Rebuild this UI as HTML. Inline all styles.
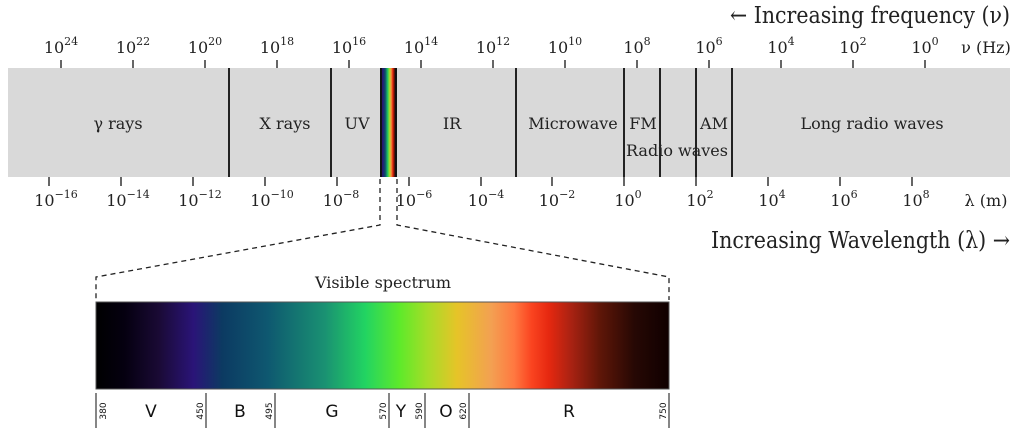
<!DOCTYPE html>
<html><head><meta charset="utf-8"><style>
html,body{margin:0;padding:0;background:#fff;}
svg{display:block;}
.s{font-family:"DejaVu Serif","Liberation Serif",serif;fill:#222;}
.a{font-family:"DejaVu Sans","Liberation Sans",sans-serif;fill:#111;}
</style></head><body>
<svg width="1024" height="435" viewBox="0 0 1024 435" xmlns="http://www.w3.org/2000/svg">
<defs>
<linearGradient id="vis" x1="0" x2="1" y1="0" y2="0">
<stop offset="0" stop-color="#000000"/>
<stop offset="0.05" stop-color="#050010"/>
<stop offset="0.11" stop-color="#1a0a35"/>
<stop offset="0.17" stop-color="#2a1478"/>
<stop offset="0.22" stop-color="#0c3a62"/>
<stop offset="0.3" stop-color="#0e5870"/>
<stop offset="0.4" stop-color="#1a9272"/>
<stop offset="0.47" stop-color="#22d462"/>
<stop offset="0.53" stop-color="#5eea2a"/>
<stop offset="0.58" stop-color="#a8dc28"/>
<stop offset="0.63" stop-color="#e6c428"/>
<stop offset="0.69" stop-color="#f3a052"/>
<stop offset="0.73" stop-color="#ff7840"/>
<stop offset="0.76" stop-color="#fa4420"/>
<stop offset="0.79" stop-color="#e62810"/>
<stop offset="0.83" stop-color="#a82212"/>
<stop offset="0.88" stop-color="#5e1608"/>
<stop offset="0.94" stop-color="#260804"/>
<stop offset="1" stop-color="#100000"/>
</linearGradient>
<linearGradient id="mini" x1="0" x2="1" y1="0" y2="0">
<stop offset="0" stop-color="#000"/>
<stop offset="0.15" stop-color="#2a1478"/>
<stop offset="0.3" stop-color="#0c4a6a"/>
<stop offset="0.45" stop-color="#22c462"/>
<stop offset="0.55" stop-color="#9ae028"/>
<stop offset="0.65" stop-color="#f3a040"/>
<stop offset="0.75" stop-color="#e62810"/>
<stop offset="0.88" stop-color="#3a0a04"/>
<stop offset="1" stop-color="#000"/>
</linearGradient>
</defs>

<text class="s" x="730" y="23" font-size="23" textLength="280" lengthAdjust="spacingAndGlyphs">← Increasing frequency (ν)</text>
<text class="s" x="711" y="248" font-size="23" textLength="299" lengthAdjust="spacingAndGlyphs">Increasing Wavelength (λ) →</text>

<rect x="8" y="68" width="1002" height="109" fill="#d9d9d9"/>

<g stroke="#333" stroke-width="1.5">
<line x1="61" y1="60" x2="61" y2="68"/><line x1="133" y1="60" x2="133" y2="68"/><line x1="205" y1="60" x2="205" y2="68"/><line x1="277" y1="60" x2="277" y2="68"/><line x1="349" y1="60" x2="349" y2="68"/><line x1="421" y1="60" x2="421" y2="68"/><line x1="493" y1="60" x2="493" y2="68"/><line x1="565" y1="60" x2="565" y2="68"/><line x1="637" y1="60" x2="637" y2="68"/><line x1="709" y1="60" x2="709" y2="68"/><line x1="781" y1="60" x2="781" y2="68"/><line x1="853" y1="60" x2="853" y2="68"/><line x1="925" y1="60" x2="925" y2="68"/>
<line x1="49" y1="177" x2="49" y2="186"/><line x1="121" y1="177" x2="121" y2="186"/><line x1="193" y1="177" x2="193" y2="186"/><line x1="265" y1="177" x2="265" y2="186"/><line x1="337" y1="177" x2="337" y2="186"/><line x1="409" y1="177" x2="409" y2="186"/><line x1="481" y1="177" x2="481" y2="186"/><line x1="552" y1="177" x2="552" y2="186"/><line x1="624" y1="177" x2="624" y2="186"/><line x1="696" y1="177" x2="696" y2="186"/><line x1="768" y1="177" x2="768" y2="186"/><line x1="840" y1="177" x2="840" y2="186"/><line x1="912" y1="177" x2="912" y2="186"/>
</g>
<g stroke="#222" stroke-width="2">
<line x1="229" y1="68" x2="229" y2="177"/><line x1="331" y1="68" x2="331" y2="177"/>
<line x1="516" y1="68" x2="516" y2="177"/><line x1="624" y1="68" x2="624" y2="177"/>
<line x1="660" y1="68" x2="660" y2="177"/><line x1="696" y1="68" x2="696" y2="177"/>
<line x1="732" y1="68" x2="732" y2="177"/>
</g>
<rect x="380" y="68" width="17" height="109" fill="url(#mini)"/>
<rect x="380" y="68" width="2" height="109" fill="#111"/><rect x="395" y="68" width="2" height="109" fill="#111"/>

<g class="s" font-size="16" text-anchor="middle">
<text x="61" y="53">10<tspan dy="-8" font-size="11">24</tspan></text>
<text x="133" y="53">10<tspan dy="-8" font-size="11">22</tspan></text>
<text x="205" y="53">10<tspan dy="-8" font-size="11">20</tspan></text>
<text x="277" y="53">10<tspan dy="-8" font-size="11">18</tspan></text>
<text x="349" y="53">10<tspan dy="-8" font-size="11">16</tspan></text>
<text x="421" y="53">10<tspan dy="-8" font-size="11">14</tspan></text>
<text x="493" y="53">10<tspan dy="-8" font-size="11">12</tspan></text>
<text x="565" y="53">10<tspan dy="-8" font-size="11">10</tspan></text>
<text x="637" y="53">10<tspan dy="-8" font-size="11">8</tspan></text>
<text x="709" y="53">10<tspan dy="-8" font-size="11">6</tspan></text>
<text x="781" y="53">10<tspan dy="-8" font-size="11">4</tspan></text>
<text x="853" y="53">10<tspan dy="-8" font-size="11">2</tspan></text>
<text x="925" y="53">10<tspan dy="-8" font-size="11">0</tspan></text>
<text x="986" y="53">ν (Hz)</text>

<text x="56" y="206">10<tspan dy="-8" font-size="11">−16</tspan></text>
<text x="128" y="206">10<tspan dy="-8" font-size="11">−14</tspan></text>
<text x="200" y="206">10<tspan dy="-8" font-size="11">−12</tspan></text>
<text x="272" y="206">10<tspan dy="-8" font-size="11">−10</tspan></text>
<text x="341" y="206">10<tspan dy="-8" font-size="11">−8</tspan></text>
<text x="414" y="206">10<tspan dy="-8" font-size="11">−6</tspan></text>
<text x="486" y="206">10<tspan dy="-8" font-size="11">−4</tspan></text>
<text x="557" y="206">10<tspan dy="-8" font-size="11">−2</tspan></text>
<text x="628" y="206">10<tspan dy="-8" font-size="11">0</tspan></text>
<text x="700" y="206">10<tspan dy="-8" font-size="11">2</tspan></text>
<text x="772" y="206">10<tspan dy="-8" font-size="11">4</tspan></text>
<text x="844" y="206">10<tspan dy="-8" font-size="11">6</tspan></text>
<text x="916" y="206">10<tspan dy="-8" font-size="11">8</tspan></text>
<text x="986" y="206">λ (m)</text>

<text x="118" y="129">γ rays</text>
<text x="285" y="129">X rays</text>
<text x="357" y="129">UV</text>
<text x="452" y="129">IR</text>
<text x="573" y="129">Microwave</text>
<text x="643" y="129">FM</text>
<text x="714" y="129">AM</text>
<text x="677" y="156">Radio waves</text>
<text x="872" y="129">Long radio waves</text>
<text x="383" y="288">Visible spectrum</text>
</g>

<g fill="none" stroke="#222" stroke-width="1.3" stroke-dasharray="5,4">
<polyline points="380,179 380,225 96,277 96,300"/>
<polyline points="397,179 397,225 669,277 669,300"/>
</g>

<rect x="96" y="302" width="573" height="87" fill="url(#vis)"/>
<rect x="96" y="302" width="573" height="87" fill="none" stroke="#555" stroke-width="1"/>

<g stroke="#444" stroke-width="1.3">
<line x1="96" y1="393" x2="96" y2="428"/><line x1="206" y1="393" x2="206" y2="428"/>
<line x1="275" y1="393" x2="275" y2="428"/><line x1="389" y1="393" x2="389" y2="428"/>
<line x1="425" y1="393" x2="425" y2="428"/><line x1="469" y1="393" x2="469" y2="428"/>
<line x1="669" y1="393" x2="669" y2="428"/>
</g>
<g class="a" font-size="17" text-anchor="middle">
<text x="151" y="417">V</text><text x="240" y="417">B</text><text x="332" y="417">G</text>
<text x="401" y="417">Y</text><text x="446" y="417">O</text><text x="569" y="417">R</text>
</g>
<g class="a" font-size="9" text-anchor="middle">
<text transform="translate(106,411) rotate(-90)">380</text>
<text transform="translate(203,411) rotate(-90)">450</text>
<text transform="translate(272,411) rotate(-90)">495</text>
<text transform="translate(386,411) rotate(-90)">570</text>
<text transform="translate(422,411) rotate(-90)">590</text>
<text transform="translate(466,411) rotate(-90)">620</text>
<text transform="translate(666,411) rotate(-90)">750</text>
</g>
</svg>
</body></html>
